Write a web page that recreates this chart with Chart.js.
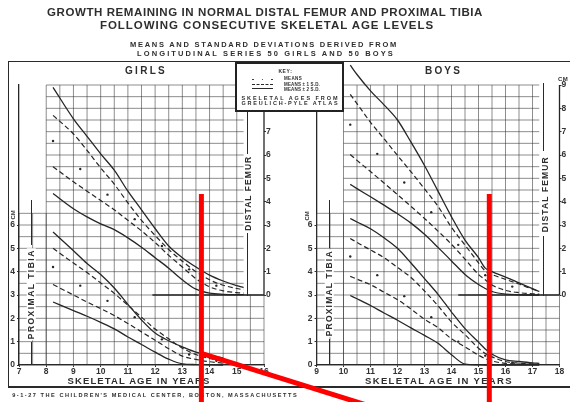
<!DOCTYPE html>
<html><head><meta charset="utf-8">
<script src="https://cdn.jsdelivr.net/npm/chart.js@4.4.1/dist/chart.umd.min.js"></script>
<style>
html,body{margin:0;padding:0;background:#fff;}
#wrap{position:relative;width:570px;height:402px;overflow:hidden;background:#fff;}
canvas{position:absolute;left:0;top:0;width:570px;height:402px;}
#deco{position:absolute;left:0;top:0;width:570px;height:402px;}
.t{position:absolute;white-space:nowrap;font-family:'Liberation Sans','DejaVu Sans',sans-serif;font-weight:bold;color:#2e2e2e;line-height:1;}
.ln{position:absolute;background:#2a2a2a;}
</style></head>
<body><div id="wrap">
<canvas id="girls" width="570" height="402"></canvas>
<canvas id="boys" width="570" height="402"></canvas>
<div id="deco"></div>
<canvas id="girlsRed" width="570" height="402"></canvas>
<canvas id="boysRed" width="570" height="402"></canvas>
</div>
<script>
// ---------------- DATA (cm of growth remaining) ----------------
const girlsAgesFemur   = [8.25, 9, 9.5, 10, 10.5, 11, 11.5, 12, 12.5, 13, 13.5, 14, 14.5, 15, 15.25];
const girlsFemurPlus2  = [8.9, 7.55, 6.8, 6.05, 5.35, 4.45, 3.65, 2.85, 2.1, 1.6, 1.2, 0.85, 0.6, 0.4, 0.32];
const girlsFemurPlus1  = [7.7, 6.9, 6.2, 5.45, 4.75, 3.95, 3.2, 2.55, 1.95, 1.45, 1.0, 0.65, 0.42, 0.28, 0.22];
const girlsFemurMinus1 = [5.5, 4.85, 4.45, 4.05, 3.65, 3.2, 2.75, 2.25, 1.7, 1.2, 0.7, 0.35, 0.18, 0.1, 0.08];
const girlsFemurMinus2 = [4.35, 3.7, 3.35, 3.05, 2.8, 2.45, 2.05, 1.6, 1.15, 0.65, 0.25, 0.08, 0.03, 0.02, 0.02];

const girlsAgesTibia   = [8.25, 9, 9.5, 10, 10.5, 11, 11.5, 12, 12.5, 13, 13.5, 14, 14.5];
const girlsTibiaPlus2  = [5.7, 4.9, 4.35, 3.88, 3.3, 2.6, 1.93, 1.37, 1.04, 0.78, 0.55, 0.42, 0.3];
const girlsTibiaPlus1  = [5.0, 4.37, 3.96, 3.52, 3.07, 2.56, 2.05, 1.54, 1.12, 0.72, 0.45, 0.28, 0.18];
const girlsTibiaMinus1 = [3.45, 3.0, 2.7, 2.42, 2.12, 1.78, 1.42, 1.06, 0.7, 0.38, 0.24, 0.14, 0.08];
const girlsTibiaMinus2 = [2.7, 2.33, 2.09, 1.83, 1.55, 1.2, 0.88, 0.55, 0.25, 0.05, 0.02, 0.01, 0.0];

const girlsMeanAges    = [8.25, 9.25, 10.25, 11.25, 12.25, 13.25, 14.25];
const girlsFemurMean   = [6.6, 5.4, 4.3, 3.25, 2.1, 1.1, 0.4];
const girlsTibiaMean   = [4.2, 3.4, 2.75, 2.05, 1.1, 0.45, 0.18];

const boysAges         = [10.25, 10.5, 11, 11.5, 12, 12.5, 13, 13.5, 14, 14.5, 15, 15.25, 15.5, 16, 16.5, 17, 17.25];
const boysFemurPlus2   = [9.85, 9.45, 8.75, 8.15, 7.5, 6.55, 5.55, 4.45, 3.35, 2.35, 1.6, 1.15, 1.0, 0.77, 0.52, 0.27, 0.15];
const boysFemurPlus1   = [8.6, 8.2, 7.4, 6.7, 5.98, 5.28, 4.55, 3.8, 2.9, 2.14, 1.38, 1.03, 0.88, 0.67, 0.47, 0.25, 0.17];
const boysFemurMinus1  = [6.02, 5.77, 5.29, 4.8, 4.3, 3.8, 3.28, 2.74, 2.17, 1.54, 0.88, 0.65, 0.43, 0.2, 0.1, 0.05, 0.04];
const boysFemurMinus2  = [4.74, 4.56, 4.21, 3.85, 3.48, 3.08, 2.6, 2.04, 1.46, 0.88, 0.45, 0.28, 0.15, 0.04, 0.01, 0, 0];
const boysTibiaPlus2   = [6.28, 6.13, 5.84, 5.45, 5.0, 4.37, 3.7, 3.03, 2.27, 1.56, 0.98, 0.69, 0.46, 0.22, 0.15, 0.09, 0.07];
const boysTibiaPlus1   = [5.42, 5.25, 4.93, 4.6, 4.18, 3.75, 3.17, 2.54, 1.84, 1.3, 0.72, 0.49, 0.35, 0.15, 0.08, 0.05, 0.04];
const boysTibiaMinus1  = [3.8, 3.68, 3.44, 3.12, 2.8, 2.4, 1.96, 1.6, 1.12, 0.78, 0.42, 0.27, 0.17, 0.07, 0.04, 0.03, 0.02];
const boysTibiaMinus2  = [2.98, 2.84, 2.55, 2.23, 1.92, 1.59, 1.27, 0.93, 0.44, 0.04, 0.01, 0, 0, 0, 0, 0, 0];

const boysMeanAges     = [10.25, 11.25, 12.25, 13.25, 14.25, 15.25, 16.25];
const boysFemurMean    = [7.3, 6.05, 4.82, 3.55, 2.15, 0.85, 0.36];
const boysTibiaMean    = [4.65, 3.85, 2.95, 2.05, 1.0, 0.4, 0.1];

// tick labels
const girlsAgeTicks = [7, 8, 9, 10, 11, 12, 13, 14, 15, 16];
const boysAgeTicks  = [9, 10, 11, 12, 13, 14, 15, 16, 17, 18];
const tibiaTicks    = [0, 1, 2, 3, 4, 5, 6];
const femurTicks    = [0, 1, 2, 3, 4, 5, 6, 7, 8, 9];

// red markers drawn over the chart (age, cm)
const girlsMarkerAge = 13.7;
const boysMarkerAge  = 15.4;
const markerTopFemur = 4.33;
const pointerAges    = [13.7, 20];
const pointerTibia   = [0.5, -1.8];

// ---------------- LAYOUT ----------------
const W = 570, H = 402, WL = 14, WR = 10, HX = 14;
const INK = '#262626';
const girlsGeo = {left: 19, right: 264, top: 85, bottom: 365, xmin: 7, xmax: 16, baseStart: 11.9,
  regions: [[8, 15.25, 0, 12], [7, 8, 0, 6.5], [15.25, 16, 0, 3]], ticks: girlsAgeTicks};
const boysGeo  = {left: 316.5, right: 559.5, top: 85, bottom: 365, xmin: 9, xmax: 18, baseStart: 14.25,
  regions: [[10, 17.25, 0, 12], [9, 10, 0, 6.5], [17.25, 18, 0, 3]], ticks: boysAgeTicks};

const panelDecor = {
  id: 'panelDecor',
  beforeDatasetsDraw(chart, args, o) {
    if (!o || !o.regions) return;
    const ctx = chart.ctx, xs = chart.scales.x, ys = chart.scales.y, fs = chart.scales.yF;
    ctx.save();
    ctx.strokeStyle = 'rgba(50,50,50,0.55)';
    ctx.lineWidth = 1;
    ctx.beginPath();
    for (const [x0, x1, y0, y1] of o.regions) {
      for (let v = Math.ceil(x0 / 0.5 - 1e-9) * 0.5; v <= x1 + 1e-9; v += 0.5) {
        const px = xs.getPixelForValue(v);
        ctx.moveTo(px, ys.getPixelForValue(y0)); ctx.lineTo(px, ys.getPixelForValue(y1));
      }
      for (let v = Math.ceil(y0 / 0.5 - 1e-9) * 0.5; v <= y1 + 1e-9; v += 0.5) {
        const py = ys.getPixelForValue(v);
        ctx.moveTo(xs.getPixelForValue(x0), py); ctx.lineTo(xs.getPixelForValue(x1), py);
      }
    }
    ctx.stroke();
    ctx.strokeStyle = INK; ctx.lineWidth = 1.3;
    const fx = xs.getPixelForValue(xs.max);
    ctx.beginPath();
    ctx.moveTo(fx, fs.getPixelForValue(0)); ctx.lineTo(fx, fs.getPixelForValue(fs.max));
    ctx.moveTo(xs.getPixelForValue(o.baseStart), fs.getPixelForValue(0)); ctx.lineTo(fx, fs.getPixelForValue(0));
    ctx.stroke();
    ctx.restore();
  }
};

function panelOptions(g, overlay) {
  const hide = 'rgba(0,0,0,0)';
  const font = {family: "'Liberation Sans','DejaVu Sans',sans-serif", size: 8.5, weight: 'bold', lineHeight: 1};
  const col = overlay ? hide : '#333';
  return {
    responsive: false, animation: false, events: [],
    layout: {padding: {left: g.left - WL, right: W - g.right - WR, top: g.top, bottom: H - g.bottom - HX}},
    plugins: {legend: {display: false}, tooltip: {enabled: false},
      panelDecor: overlay ? {} : {regions: g.regions, baseStart: g.baseStart}},
    scales: {
      x: {type: 'linear', min: g.xmin, max: g.xmax, position: 'bottom',
        afterFit: s => { s.height = HX; },
        afterBuildTicks: s => { s.ticks = g.ticks.map(v => ({value: v})); },
        ticks: {autoSkip: false, maxRotation: 0, padding: 0, color: col, font},
        grid: {display: !overlay, drawOnChartArea: false, drawTicks: true, tickLength: 2, color: '#333'},
        border: {display: !overlay, color: INK, width: 1.3}},
      y: {type: 'linear', min: 0, max: 12, position: 'left',
        afterFit: s => { s.width = WL; },
        afterBuildTicks: s => { s.ticks = tibiaTicks.map(v => ({value: v})); },
        ticks: {autoSkip: false, padding: 2, color: col, font},
        grid: {display: !overlay, drawOnChartArea: false, drawTicks: true, tickLength: 2, color: '#333'},
        border: {display: !overlay, color: INK, width: 1.3}},
      yF: {type: 'linear', min: -3, max: 9, position: 'right',
        afterFit: s => { s.width = WR; },
        afterBuildTicks: s => { s.ticks = femurTicks.map(v => ({value: v})); },
        ticks: {autoSkip: false, padding: 0, color: col, font},
        grid: {display: !overlay, drawOnChartArea: false, drawTicks: true, tickLength: 2, color: '#333'},
        border: {display: false}}
    }
  };
}

function pts(ages, vals) { return ages.map((a, i) => ({x: a, y: vals[i]})); }
function curve(ages, vals, axis, dashed) {
  return {data: pts(ages, vals), yAxisID: axis, showLine: true, borderColor: INK,
    borderWidth: dashed ? 1.2 : 1.3, borderDash: dashed ? [5, 3] : [], pointRadius: 0,
    cubicInterpolationMode: 'monotone', clip: false, fill: false};
}
function dots(ages, vals, axis) {
  return {data: pts(ages, vals), yAxisID: axis, showLine: false, pointRadius: 1.2,
    pointBackgroundColor: INK, pointBorderWidth: 0, clip: false};
}
function red(ages, vals, axis) {
  return {data: pts(ages, vals), yAxisID: axis, showLine: true, borderColor: '#ff0000',
    borderWidth: 5, pointRadius: 0, tension: 0, clip: false, borderCapStyle: 'butt'};
}

new Chart(document.getElementById('girls'), {
  type: 'scatter',
  data: {datasets: [
    curve(girlsAgesFemur, girlsFemurPlus2, 'yF', false),
    curve(girlsAgesFemur, girlsFemurPlus1, 'yF', true),
    dots(girlsMeanAges, girlsFemurMean, 'yF'),
    curve(girlsAgesFemur, girlsFemurMinus1, 'yF', true),
    curve(girlsAgesFemur, girlsFemurMinus2, 'yF', false),
    curve(girlsAgesTibia, girlsTibiaPlus2, 'y', false),
    curve(girlsAgesTibia, girlsTibiaPlus1, 'y', true),
    dots(girlsMeanAges, girlsTibiaMean, 'y'),
    curve(girlsAgesTibia, girlsTibiaMinus1, 'y', true),
    curve(girlsAgesTibia, girlsTibiaMinus2, 'y', false)
  ]},
  options: panelOptions(girlsGeo, false),
  plugins: [panelDecor]
});

new Chart(document.getElementById('boys'), {
  type: 'scatter',
  data: {datasets: [
    curve(boysAges, boysFemurPlus2, 'yF', false),
    curve(boysAges, boysFemurPlus1, 'yF', true),
    dots(boysMeanAges, boysFemurMean, 'yF'),
    curve(boysAges, boysFemurMinus1, 'yF', true),
    curve(boysAges, boysFemurMinus2, 'yF', false),
    curve(boysAges, boysTibiaPlus2, 'y', false),
    curve(boysAges, boysTibiaPlus1, 'y', true),
    dots(boysMeanAges, boysTibiaMean, 'y'),
    curve(boysAges, boysTibiaMinus1, 'y', true),
    curve(boysAges, boysTibiaMinus2, 'y', false)
  ]},
  options: panelOptions(boysGeo, false),
  plugins: [panelDecor]
});

// ---------------- DECORATION (frames, key, titles) ----------------
const deco = document.getElementById('deco');
function line(x, y, w, h) {
  const d = document.createElement('div'); d.className = 'ln';
  d.style.left = x + 'px'; d.style.top = y + 'px'; d.style.width = w + 'px'; d.style.height = h + 'px';
  deco.appendChild(d); return d;
}
function txt(s, x, y, size, width, o = {}) {
  const el = document.createElement('div');
  el.className = 't'; el.textContent = s;
  const fs = Math.max(size, 6), k = size / fs;
  el.style.fontSize = fs + 'px';
  if (o.bg) { el.style.background = '#fff'; el.style.padding = '0 1px'; }
  deco.appendChild(el);
  let w = el.getBoundingClientRect().width;
  if (width) {
    el.style.letterSpacing = ((width / k - w) / s.length) + 'px';
    w = el.getBoundingClientRect().width;
  }
  const h = el.getBoundingClientRect().height;
  const cx = o.left ? x + w * k / 2 : x;
  el.style.left = (cx - w / 2) + 'px';
  el.style.top = (y - h / 2) + 'px';
  el.style.transform = `rotate(${o.rot || 0}deg) scale(${k})`;
  return el;
}

// outer frame
line(8, 60.5, 562, 1.5);
line(7.5, 61, 1.5, 325);
line(8, 385.5, 562, 2);

// titles
txt('GROWTH REMAINING IN NORMAL DISTAL FEMUR AND PROXIMAL TIBIA', 265, 12.5, 11.5, 436);
txt('FOLLOWING CONSECUTIVE SKELETAL AGE LEVELS', 267, 25.5, 11.5, 334);
txt('MEANS AND STANDARD DEVIATIONS DERIVED FROM', 264, 45, 7.5, 268);
txt('LONGITUDINAL SERIES 50 GIRLS AND 50 BOYS', 266, 54, 7.5, 258);
txt('GIRLS', 146, 71, 10, 42);
txt('BOYS', 443.5, 71, 10, 37);

// axis titles
txt('SKELETAL AGE IN YEARS', 139, 381, 9.5, 143);
txt('SKELETAL AGE IN YEARS', 439, 381, 9.5, 148);
txt("9-1-27 THE CHILDREN'S MEDICAL CENTER, BOSTON, MASSACHUSETTS", 155, 395, 5.6, 286);

// bracket lines with rotated scale names
line(30.5, 200, 1.3, 45); line(30.5, 342, 1.3, 23);
txt('PROXIMAL TIBIA', 31, 294, 8.5, 92, {rot: -90, bg: true});
line(328.5, 200, 1.3, 48); line(328.5, 339, 1.3, 26);
txt('PROXIMAL TIBIA', 329, 293.5, 8.5, 88, {rot: -90, bg: true});
line(247, 112, 1.3, 42); line(247, 233, 1.3, 63);
txt('DISTAL FEMUR', 248, 193.5, 8.5, 77, {rot: -90, bg: true});
line(543, 83, 1.3, 68); line(543, 236, 1.3, 60);
txt('DISTAL FEMUR', 545, 194, 8.5, 78, {rot: -90, bg: true});

// CM labels
txt('CM', 12, 215, 6, 9, {rot: -90});
txt('CM', 306, 216, 6, 9, {rot: -90});
txt('CM', 563, 79, 6, 10);

// key box
const key = document.createElement('div');
Object.assign(key.style, {position: 'absolute', left: '235px', top: '62px', width: '109px', height: '50px',
  border: '2px solid #222', background: '#fff', boxSizing: 'border-box'});
deco.appendChild(key);
txt('KEY:', 285, 71, 5, 14);
for (const dx of [253, 262.5, 272]) {
  const d = line(dx - 0.8, 78.5, 1.6, 1.6); d.style.borderRadius = '50%';
}
const dl = line(252, 83.5, 21, 0); dl.style.background = 'none'; dl.style.borderTop = '1.2px dashed #2a2a2a';
line(252, 87.5, 21, 1.2);
txt('MEANS', 284, 78, 4.5, 18, {left: true});
txt('MEANS \u00B1 1 S.D.', 284, 83.5, 4.5, 36, {left: true});
txt('MEANS \u00B1 2 S.D.', 284, 89, 4.5, 36, {left: true});
txt('SKELETAL AGES FROM', 290, 97.5, 5.5, 98);
txt('GREULICH-PYLE ATLAS', 290, 103, 5.5, 98);

// ---------------- RED MARKERS (top layer) ----------------
new Chart(document.getElementById('girlsRed'), {
  type: 'scatter',
  data: {datasets: [
    red([girlsMarkerAge, girlsMarkerAge], [markerTopFemur, -6], 'yF'),
    red(pointerAges, pointerTibia, 'y')
  ]},
  options: panelOptions(girlsGeo, true)
});
new Chart(document.getElementById('boysRed'), {
  type: 'scatter',
  data: {datasets: [
    red([boysMarkerAge, boysMarkerAge], [markerTopFemur, -6], 'yF')
  ]},
  options: panelOptions(boysGeo, true)
});
</script>
</body></html>
